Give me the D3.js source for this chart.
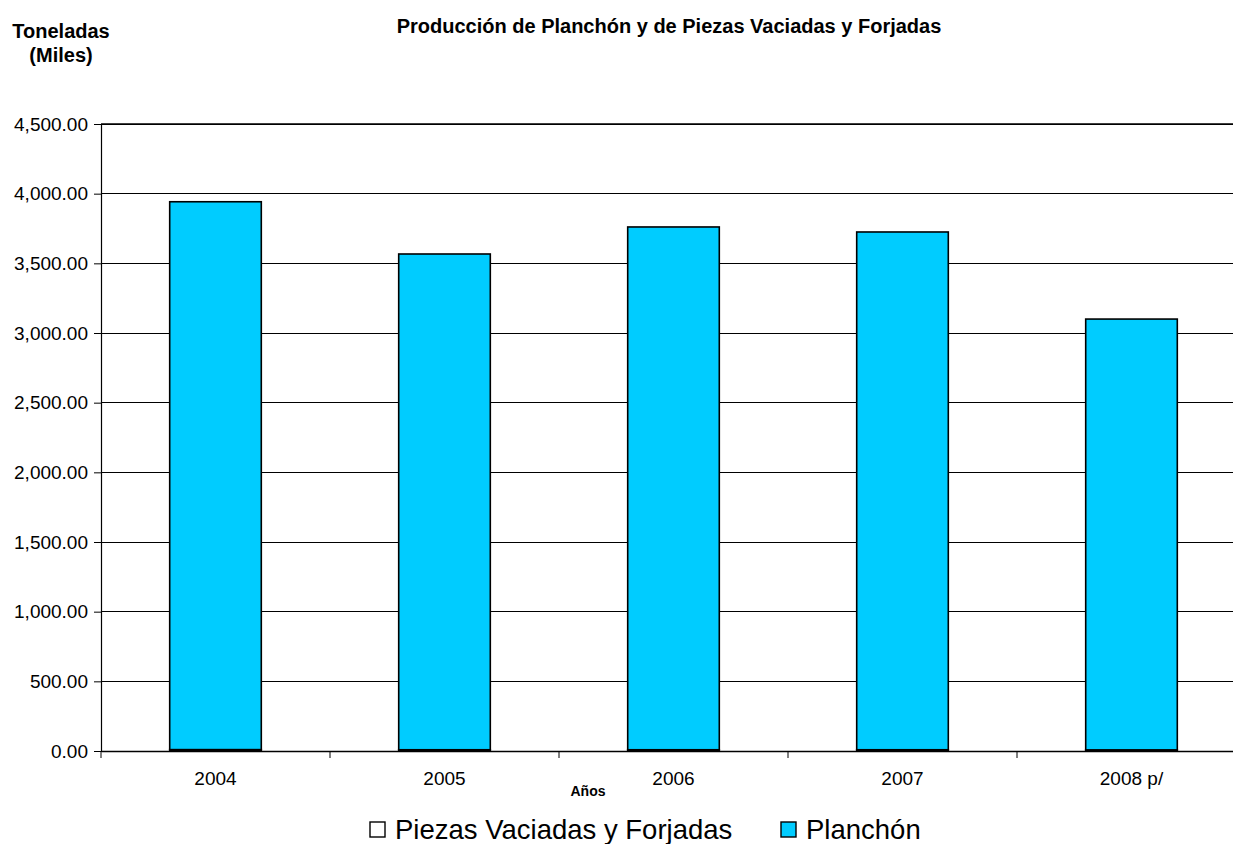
<!DOCTYPE html>
<html><head><meta charset="utf-8">
<script src="https://cdn.jsdelivr.net/npm/d3@7"></script>
<style>body{margin:0;background:#fff;} svg{display:block;font-family:Arial,"Liberation Sans",sans-serif;}</style>
</head><body>
<svg id="c" width="1233" height="844"></svg>
<script>
const categories = ["2004","2005","2006","2007","2008 p/"];
const piezas = [10, 9, 9, 9, 8];
const planchon = [3932, 3558, 3752, 3716, 3092];
const yTicks = [0,500,1000,1500,2000,2500,3000,3500,4000,4500];
const seriesNames = ["Piezas Vaciadas y Forjadas","Planchón"];
const colors = ["#ffffff","#00ccff"];

const FF = "Arial,'Liberation Sans',sans-serif";
const svg = d3.select("#c");
const L=101, R=1246, T=124, B=751;
const x = d3.scaleBand().domain(categories).range([L,R]).padding(0);
const y = d3.scaleLinear().domain([0,4500]).range([B,T]);

// gridlines
svg.append("g").selectAll("line").data(yTicks.filter(d=>d>0)).join("line")
  .attr("x1",L).attr("x2",R).attr("y1",d=>y(d)).attr("y2",d=>y(d))
  .attr("stroke","#000").attr("stroke-width",1).attr("shape-rendering","crispEdges");

// stacked bars
const data = categories.map((c,i)=>({cat:c, piezas:piezas[i], planchon:planchon[i]}));
const stack = d3.stack().keys(["piezas","planchon"])(data);
const bw = x.bandwidth()*0.4;
stack.forEach((s,si)=>{
  svg.append("g").selectAll("rect").data(s).join("rect")
    .attr("x",d=>x(d.data.cat)+(x.bandwidth()-bw)/2)
    .attr("y",d=>y(d[1]))
    .attr("width",bw)
    .attr("height",d=>y(d[0])-y(d[1]))
    .attr("fill",colors[si]).attr("stroke","#000").attr("stroke-width",1.6);
});

// y axis
const ya = svg.append("g").attr("transform",`translate(${L},0)`)
  .call(d3.axisLeft(y).tickValues(yTicks).tickFormat(d3.format(",.2f")).tickSize(7).tickPadding(6));
ya.select(".domain").attr("stroke","#000").attr("stroke-width",1.2);
ya.selectAll("text").attr("font-size",19).attr("fill","#000").style("font-family",FF);
ya.selectAll("line").attr("stroke","#000");

// x axis
const xa = svg.append("g").attr("transform",`translate(0,${B})`)
  .call(d3.axisBottom(x).tickSize(0).tickPadding(21));
xa.select(".domain").attr("stroke","#000").attr("stroke-width",1.6);
xa.selectAll("text").attr("font-size",19).attr("fill","#000").style("font-family",FF);
svg.append("g").selectAll("line").data(categories).join("line")
  .attr("x1",d=>x(d)).attr("x2",d=>x(d)).attr("y1",B).attr("y2",B+7)
  .attr("stroke","#000").attr("stroke-width",1);

// top border
svg.append("line").attr("x1",L).attr("x2",R).attr("y1",T).attr("y2",T).attr("stroke","#000").attr("stroke-width",1.6);

// titles
svg.append("text").attr("x",669).attr("y",33).attr("text-anchor","middle")
  .attr("font-size",20).attr("font-weight","bold").text("Producción de Planchón y de Piezas Vaciadas y Forjadas");
svg.append("text").attr("x",61).attr("y",38).attr("text-anchor","middle")
  .attr("font-size",20).attr("font-weight","bold").text("Toneladas");
svg.append("text").attr("x",61).attr("y",62).attr("text-anchor","middle")
  .attr("font-size",20).attr("font-weight","bold").text("(Miles)");
svg.append("text").attr("x",588).attr("y",796).attr("text-anchor","middle")
  .attr("font-size",14).attr("font-weight","bold").text("Años");

// legend
const legX = [370, 781];
const lg = svg.append("g").selectAll("g").data(seriesNames).join("g")
  .attr("transform",(d,i)=>`translate(${legX[i]},822)`);
lg.append("rect").attr("x",0).attr("y",0).attr("width",15).attr("height",15)
  .attr("fill",(d,i)=>colors[i]).attr("stroke","#000").attr("stroke-width",1.4);
lg.append("text").attr("x",25).attr("y",17).attr("font-size",27.5).text(d=>d);
</script>
</body></html>
